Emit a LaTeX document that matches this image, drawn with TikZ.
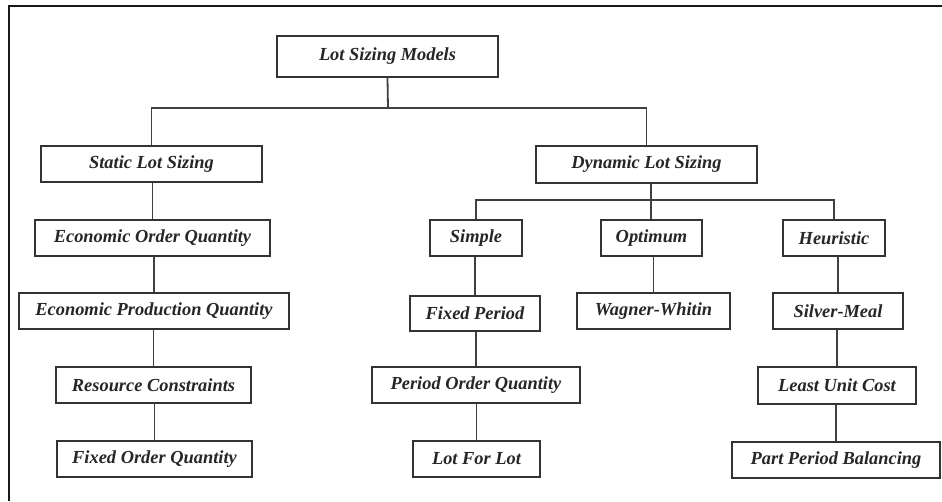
\documentclass[tikz,border=0pt]{standalone}
\usepackage{fontspec}
\setmainfont{Liberation Serif}
\begin{document}
\begin{tikzpicture}[x=1pt,y=-1pt,
  bx/.style={draw=black!80, line width=1.8pt, fill=white, inner sep=0pt,
    minimum height=36pt, text=black!85,
    font=\fontsize{18.4}{20}\selectfont\bfseries\itshape},
  ln/.style={draw=black!75, line width=1.8pt}]
\useasboundingbox (0,0) rectangle (942,501);
\draw[line width=2.4pt, black!90] (9,501) -- (9,6) -- (942,6);
% nodes
\node[bx, minimum width=221pt, minimum height=41pt] (lsm) at (387.5,56.5) {Lot Sizing Models};
\node[bx, minimum width=221pt] (sls) at (151.5,164) {Static Lot Sizing};
\node[bx, minimum width=221pt, minimum height=37pt] (dls) at (646.5,164.5) {Dynamic Lot Sizing};
\node[bx, minimum width=235pt] (eoq) at (152.5,238) {Economic Order Quantity};
\node[bx, minimum width=92pt] (sim) at (476,238) {Simple};
\node[bx, minimum width=101pt] (opt) at (651.5,238) {Optimum};
\node[bx, minimum width=102pt] (heu) at (834,238) {Heuristic};
\node[bx, minimum width=270pt] (epq) at (154,311) {Economic Production Quantity};
\node[bx, minimum width=130pt, minimum height=35pt] (fp) at (475,313.5) {Fixed Period};
\node[bx, minimum width=153pt] (ww) at (653.5,311) {Wagner-Whitin};
\node[bx, minimum width=130pt] (sm) at (838,311) {Silver-Meal};
\node[bx, minimum width=195pt] (rc) at (153.5,385) {Resource Constraints};
\node[bx, minimum width=208pt] (poq) at (476,385) {Period Order Quantity};
\node[bx, minimum width=158pt, minimum height=37pt] (luc) at (837,385.5) {Least Unit Cost};
\node[bx, minimum width=195pt] (foq) at (154.5,459) {Fixed Order Quantity};
\node[bx, minimum width=127pt] (lfl) at (476.5,459) {Lot For Lot};
\node[bx, minimum width=208pt] (ppb) at (836,460) {Part Period Balancing};
% connectors
\coordinate (j1) at (388,108);
\coordinate (j2) at (651,200);
\draw[ln] (lsm.south) -- (j1);
\draw[ln] (sls.north) |- (j1) -| (dls.north);
\draw[ln] (dls.south -| j2) -- (opt.north -| j2);
\draw[ln] (sim.north) |- (j2) -| (heu.north);
\draw[ln] (eoq.north) -- (eoq.north |- sls.south);
\draw[ln] (epq.north) -- (epq.north |- eoq.south);
\draw[ln] (rc.north) -- (rc.north |- epq.south);
\draw[ln] (foq.north) -- (foq.north |- rc.south);
\draw[ln] (fp.north) -- (fp.north |- sim.south);
\draw[ln] (poq.north) -- (poq.north |- fp.south);
\draw[ln] (lfl.north) -- (lfl.north |- poq.south);
\draw[ln] (ww.north) -- (ww.north |- opt.south);
\draw[ln] (sm.north) -- (sm.north |- heu.south);
\draw[ln] (luc.north) -- (luc.north |- sm.south);
\draw[ln] (ppb.north) -- (ppb.north |- luc.south);
\end{tikzpicture}
\end{document}
